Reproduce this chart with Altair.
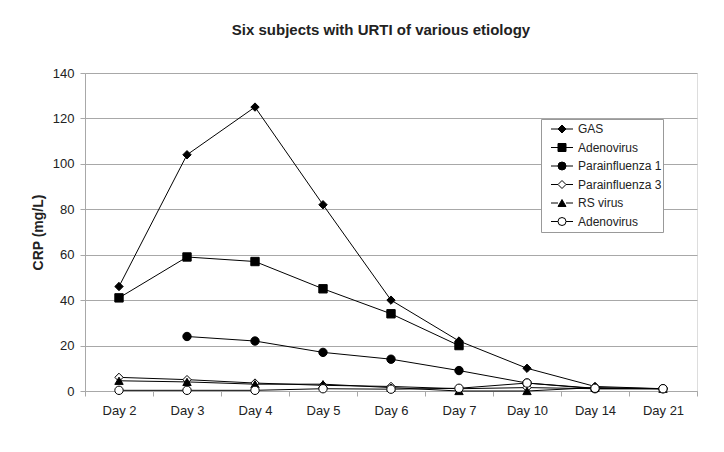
import altair as alt
import pandas as pd

days = ["Day 2", "Day 3", "Day 4", "Day 5", "Day 6", "Day 7", "Day 10", "Day 14", "Day 21"]
series_ids = ["1", "2", "3", "4", "5", "6"]
series_names = ["GAS", "Adenovirus", "Parainfluenza 1", "Parainfluenza 3", "RS virus", "Adenovirus"]

gas = [46, 104, 125, 82, 40, 22, 10, 2, 1]
adeno_a = [41, 59, 57, 45, 34, 20, None, None, None]
para1 = [None, 24, 22, 17, 14, 9, 3.5, 1, 1]
para3 = [6, 5, 3.5, 2.5, 2, 1, 1.5, 1, 1]
rsv = [4.5, 4, 3, 3, 1.5, 0, 0, 1.5, 1]
adeno_b = [0.3, 0.3, 0.3, 1, 0.8, 1.2, 3.5, 1.2, 1]

shapes = ["diamond", "square", "circle", "diamond", "triangle-up", "circle"]
fills = ["black", "black", "black", "white", "black", "white"]
y_ticks = [0, 20, 40, 60, 80, 100, 120, 140]

rows = []
for sid, vals in zip(series_ids, [gas, adeno_a, para1, para3, rsv, adeno_b]):
    for i, (d, v) in enumerate(zip(days, vals)):
        if v is not None:
            rows.append({"day": d, "idx": i, "crp": v, "sid": sid, "sid2": sid})
df = pd.DataFrame(rows)

label_expr = ""
for sid, name in zip(series_ids, series_names):
    label_expr += f"datum.label == '{sid}' ? '{name}    ' : "
label_expr += "datum.label"

FONT = "Liberation Sans"
GRID = "#a8a8a8"

x = alt.X(
    "day:N",
    sort=days,
    scale=alt.Scale(type="band", paddingInner=0, paddingOuter=0),
    axis=alt.Axis(
        title=None, tickBand="extent", grid=False, domainColor=GRID, tickColor=GRID,
        tickSize=5, labelAngle=0, labelPadding=8, labelFontSize=13, labelColor="#222",
        labelFont=FONT,
    ),
)
y = alt.Y(
    "crp:Q",
    scale=alt.Scale(domain=[0, 140]),
    axis=alt.Axis(
        title="CRP (mg/L)", values=y_ticks, grid=True, gridColor=GRID, domainColor=GRID,
        tickColor=GRID, tickSize=5, labelPadding=6, labelFontSize=13, labelColor="#222",
        labelFont=FONT, titleFont=FONT, titleFontSize=14, titleFontWeight="bold",
        titleColor="#222", titleX=-47, titleY=159, titleBaseline="middle",
    ),
)

common_leg = dict(
    title=None, orient="none", legendX=456, legendY=46, padding=1, clipHeight=18,
    rowPadding=0.5, labelFontSize=12, labelFont=FONT,
    symbolStrokeColor="black", symbolStrokeWidth=1,
)

# box + markers + labels
leg_pt = alt.Legend(
    fillColor="white", strokeColor="#999", symbolSize=64, symbolOffset=14,
    labelOffset=10, labelColor="#222", labelExpr=label_expr, zindex=0, **common_leg
)
# line stubs on both sides of the markers
leg_line = alt.Legend(
    symbolType="stroke", symbolSize=484, symbolOffset=8.5, symbolDash=[7, 8],
    labelExpr="''", zindex=1, **common_leg
)

lines = alt.Chart(df).mark_line(color="black", strokeWidth=1).encode(
    x=x,
    y=y,
    order=alt.Order("idx:Q"),
    opacity=alt.Opacity("sid:N", scale=alt.Scale(type="ordinal", range=[1] * 6), legend=leg_line),
)

points = alt.Chart(df).mark_point(
    filled=True, opacity=1, size=70, strokeWidth=1
).encode(
    x=x,
    y=y,
    shape=alt.Shape("sid2:N", scale=alt.Scale(range=shapes), legend=leg_pt),
    fill=alt.Fill("sid2:N", scale=alt.Scale(range=fills), legend=leg_pt),
    stroke=alt.Stroke("sid2:N", scale=alt.Scale(range=["black"] * 6), legend=leg_pt),
)

chart = alt.layer(lines, points).properties(
    width=612,
    height=318,
    title=alt.Title(
        "Six subjects with URTI of various etiology", fontSize=15, fontWeight="bold",
        font=FONT, color="#222", offset=29, dx=-10, anchor="middle",
    ),
    autosize=alt.AutoSizeParams(type="none"),
    padding={"left": 77, "top": 65, "right": 19, "bottom": 53},
).configure_view(stroke=None).configure(background="white")

chart.save("out.html", embed_options={"renderer": "svg", "actions": False})
